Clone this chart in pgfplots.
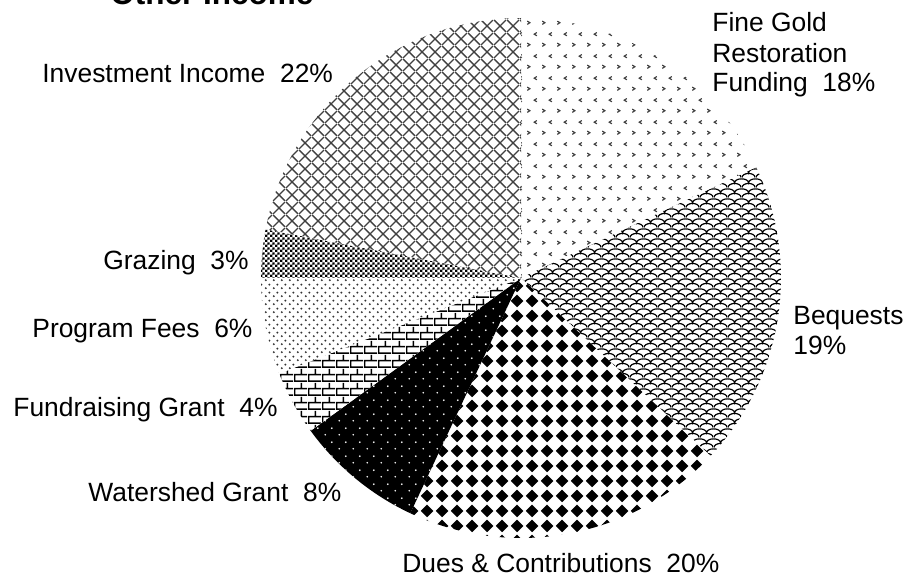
\documentclass[border=0pt]{standalone}
\usepackage{fontspec}
\setmainfont{Liberation Sans}
\usepackage{pgfplots}
\pgfplotsset{compat=1.18}
\usepackage{pgfplotstable}
\usetikzlibrary{patterns}

% Fine Gold: sparse chevrons
\pgfdeclarepatternformonly{chev}{\pgfqpoint{0pt}{0pt}}{\pgfqpoint{7.5pt}{11pt}}{\pgfqpoint{7.5pt}{11pt}}{%
  \pgfsetlinewidth{0.6pt}%
  \pgfpathmoveto{\pgfqpoint{1.2pt}{3.6pt}}\pgfpathlineto{\pgfqpoint{2.6pt}{2.75pt}}\pgfpathlineto{\pgfqpoint{1.2pt}{1.9pt}}%
  \pgfpathmoveto{\pgfqpoint{6.3pt}{9.1pt}}\pgfpathlineto{\pgfqpoint{4.9pt}{8.25pt}}\pgfpathlineto{\pgfqpoint{6.3pt}{7.4pt}}%
  \pgfusepath{stroke}}
% Bequests: scales
\pgfdeclarepatternformonly{scales}{\pgfqpoint{0pt}{0pt}}{\pgfqpoint{7pt}{5pt}}{\pgfqpoint{7pt}{5pt}}{%
  \pgfsetlinewidth{0.65pt}%
  \pgfpathmoveto{\pgfqpoint{0pt}{0.3pt}}\pgfpatharc{180}{0}{3.5pt and 2.2pt}%
  \pgfpathmoveto{\pgfqpoint{-3.5pt}{2.8pt}}\pgfpatharc{180}{0}{3.5pt and 2.2pt}\pgfpatharc{180}{0}{3.5pt and 2.2pt}%
  \pgfusepath{stroke}}
% Dues: diamonds
\pgfdeclarepatternformonly{diam}{\pgfqpoint{0pt}{0pt}}{\pgfqpoint{7.5pt}{7.5pt}}{\pgfqpoint{7.5pt}{7.5pt}}{%
  \pgfpathmoveto{\pgfqpoint{3.75pt}{0.4pt}}\pgfpathlineto{\pgfqpoint{7.1pt}{3.75pt}}%
  \pgfpathlineto{\pgfqpoint{3.75pt}{7.1pt}}\pgfpathlineto{\pgfqpoint{0.4pt}{3.75pt}}\pgfpathclose
  \pgfusepath{fill}}
% Watershed: white dots
\pgfdeclarepatternformonly{wdots}{\pgfqpoint{0pt}{0pt}}{\pgfqpoint{7pt}{7pt}}{\pgfqpoint{7pt}{7pt}}{%
  \pgfpathcircle{\pgfqpoint{1.75pt}{1.75pt}}{0.5pt}%
  \pgfpathcircle{\pgfqpoint{5.25pt}{5.25pt}}{0.5pt}%
  \pgfusepath{fill}}
% Fundraising: bricks
\pgfdeclarepatternformonly{bricksb}{\pgfqpoint{0pt}{0pt}}{\pgfqpoint{7pt}{7pt}}{\pgfqpoint{7pt}{7pt}}{%
  \pgfsetlinewidth{0.8pt}%
  \pgfpathmoveto{\pgfqpoint{0pt}{0.4pt}}\pgfpathlineto{\pgfqpoint{7pt}{0.4pt}}%
  \pgfpathmoveto{\pgfqpoint{0pt}{3.9pt}}\pgfpathlineto{\pgfqpoint{7pt}{3.9pt}}%
  \pgfpathmoveto{\pgfqpoint{0.4pt}{0.4pt}}\pgfpathlineto{\pgfqpoint{0.4pt}{3.9pt}}%
  \pgfpathmoveto{\pgfqpoint{3.9pt}{3.9pt}}\pgfpathlineto{\pgfqpoint{3.9pt}{7pt}}%
  \pgfpathmoveto{\pgfqpoint{3.9pt}{0pt}}\pgfpathlineto{\pgfqpoint{3.9pt}{0.4pt}}%
  \pgfusepath{stroke}}
% Program fees: small dots
\pgfdeclarepatternformonly{pdots}{\pgfqpoint{0pt}{0pt}}{\pgfqpoint{4pt}{4pt}}{\pgfqpoint{4pt}{4pt}}{%
  \pgfpathcircle{\pgfqpoint{1pt}{1pt}}{0.6pt}%
  \pgfpathcircle{\pgfqpoint{3pt}{3pt}}{0.6pt}%
  \pgfusepath{fill}}
% Grazing: fine checker
\pgfdeclarepatternformonly{checker}{\pgfqpoint{0pt}{0pt}}{\pgfqpoint{2.6pt}{2.6pt}}{\pgfqpoint{2.6pt}{2.6pt}}{%
  \pgfpathrectangle{\pgfqpoint{0pt}{0pt}}{\pgfqpoint{1.4pt}{1.4pt}}%
  \pgfpathrectangle{\pgfqpoint{1.3pt}{1.3pt}}{\pgfqpoint{1.4pt}{1.4pt}}%
  \pgfusepath{fill}}
% Investment: diagonal crosshatch
\pgfdeclarepatternformonly{xhatch}{\pgfqpoint{0pt}{0pt}}{\pgfqpoint{6.5pt}{6.5pt}}{\pgfqpoint{6.5pt}{6.5pt}}{%
  \pgfsetlinewidth{0.75pt}%
  \pgfpathmoveto{\pgfqpoint{0pt}{0pt}}\pgfpathlineto{\pgfqpoint{6.5pt}{6.5pt}}%
  \pgfpathmoveto{\pgfqpoint{0pt}{6.5pt}}\pgfpathlineto{\pgfqpoint{6.5pt}{0pt}}%
  \pgfusepath{stroke}}

\tikzset{
  slice0/.style={preaction={fill=white}, pattern=chev, pattern color=black!75},
  slice1/.style={preaction={fill=white}, pattern=scales, pattern color=black},
  slice2/.style={preaction={fill=white}, pattern=diam, pattern color=black},
  slice3/.style={preaction={fill=black}, pattern=wdots, pattern color=white},
  slice4/.style={preaction={fill=white}, pattern=bricksb, pattern color=black},
  slice5/.style={preaction={fill=white}, pattern=pdots, pattern color=black!80},
  slice6/.style={preaction={fill=white}, pattern=checker, pattern color=black},
  slice7/.style={preaction={fill=white}, pattern=xhatch, pattern color=black!75},
}

\newcommand\lbl{\fontsize{13.2}{15}\selectfont}

\pgfplotstableread[col sep=comma]{
label,value
Fine Gold Restoration Funding,18
Bequests,19
Dues and Contributions,20
Watershed Grant,8
Fundraising Grant,4
Program Fees,6
Grazing,3
Investment Income,22
}\piedata

\begin{document}
\begin{tikzpicture}
\pgfplotstablegetrowsof{\piedata}
\pgfmathtruncatemacro\nrows{\pgfplotsretval-1}
\xdef\cumsum{0}
\foreach \i in {0,...,\nrows}{
  \pgfplotstablegetelem{\i}{value}\of\piedata
  \pgfmathsetmacro\sa{90-3.6*\cumsum}
  \pgfmathsetmacro\nc{\cumsum+\pgfplotsretval}
  \pgfmathsetmacro\sb{90-3.6*\nc}
  \expandafter\xdef\csname sa\i\endcsname{\sa}
  \expandafter\xdef\csname sb\i\endcsname{\sb}
  \xdef\cumsum{\nc}
}
\begin{axis}[at={(0,0)}, anchor=south west, scale only axis,
  width=458pt, height=289pt, xmin=0, xmax=916, ymin=0, ymax=578,
  hide axis, clip=false]
\pgfplotsinvokeforeach{0,...,7}{
  \fill[slice#1] (axis cs:521,300) -- ++(\csname sa#1\endcsname:130pt)
    arc[start angle=\csname sa#1\endcsname, end angle=\csname sb#1\endcsname, radius=130pt] -- cycle;
}
\node[anchor=base west, inner sep=0, font=\bfseries\fontsize{15.75}{18}\selectfont] at (axis cs:110,573) {Other Income};
\node[anchor=base west, inner sep=0, font=\lbl] at (axis cs:42,495) {Investment Income\ \ 22\%};
\node[anchor=base west, inner sep=0, font=\lbl] at (axis cs:712,546) {Fine Gold};
\node[anchor=base west, inner sep=0, font=\lbl] at (axis cs:712,515) {Restoration};
\node[anchor=base west, inner sep=0, font=\lbl] at (axis cs:712,486) {Funding\ \ 18\%};
\node[anchor=base west, inner sep=0, font=\lbl] at (axis cs:793,253) {Bequests};
\node[anchor=base west, inner sep=0, font=\lbl] at (axis cs:793,223) {19\%};
\node[anchor=base west, inner sep=0, font=\lbl] at (axis cs:402,5) {Dues \& Contributions\ \ 20\%};
\node[anchor=base west, inner sep=0, font=\lbl] at (axis cs:88,76) {Watershed Grant\ \ 8\%};
\node[anchor=base west, inner sep=0, font=\lbl] at (axis cs:13,161) {Fundraising Grant\ \ 4\%};
\node[anchor=base west, inner sep=0, font=\lbl] at (axis cs:32,240) {Program Fees\ \ 6\%};
\node[anchor=base west, inner sep=0, font=\lbl] at (axis cs:103,308) {Grazing\ \ 3\%};
\end{axis}
\pgfresetboundingbox
\useasboundingbox (0,0) rectangle (458pt,289pt);
\end{tikzpicture}
\end{document}
